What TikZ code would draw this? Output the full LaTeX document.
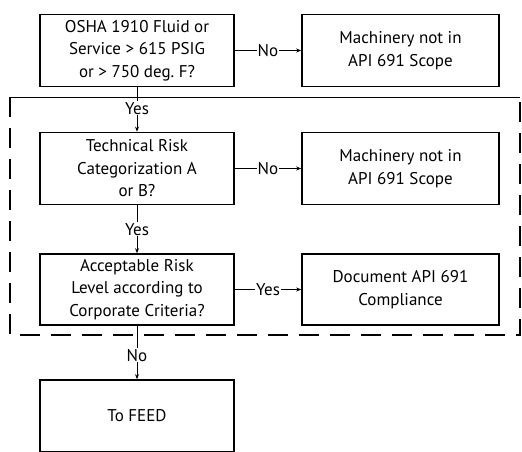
\documentclass[tikz,border=0pt]{standalone}
\usepackage{fontspec}
\setmainfont{PT Sans}
\usetikzlibrary{arrows.meta}
\begin{document}
\begin{tikzpicture}[x=1pt,y=-1pt,
  box/.style={draw,line width=1.6pt,minimum width=194pt,minimum height=72pt,align=center,font=\fontsize{17}{22.5}\selectfont,inner sep=0pt},
  lbl/.style={font=\fontsize{17}{18}\selectfont,fill=white,inner sep=1pt},
  arr/.style={line width=0.8pt,-{Stealth[length=5pt,width=4pt]}}]
\useasboundingbox (0,0) rectangle (522,452);
% dashed boundary
\draw[line width=1.6pt,dash pattern=on 20pt off 11pt] (10,97) -- (10,335) -- (520,335) -- (520,97);
\draw[line width=1pt] (10,97) -- (520,97);
\node[box] (q1) at (137,50.5) {OSHA 1910 Fluid or\\Service > 615 PSIG\\or > 750 deg.\ F?};
\node[box,minimum width=197pt] (n1) at (400.5,50.5) {Machinery not in\\API 691 Scope};
\node[box] (q2) at (137,168.5) {Technical Risk\\Categorization A\\or B?};
\node[box,minimum width=197pt] (n2) at (400.5,168.5) {Machinery not in\\API 691 Scope};
\node[box,minimum height=71pt] (q3) at (137,289.5) {Acceptable Risk\\Level according to\\Corporate Criteria?};
\node[box,minimum width=197pt,minimum height=71pt] (d3) at (400.5,289.5) {Document API 691\\Compliance};
\node[box,minimum height=72pt] (f) at (137,416) {To FEED};
\draw[arr] (q1) -- node[lbl]{No} (n1);
\draw[arr] (q2) -- node[lbl]{No} (n2);
\draw[arr] (q3) -- node[lbl]{Yes} (d3);
\draw[arr] (q1) -- node[lbl,pos=0.47]{Yes} (q2);
\draw[arr] (q2) -- node[lbl]{Yes} (q3);
\draw[arr] (q3) -- node[lbl,pos=0.55]{No} (f);
\end{tikzpicture}
\end{document}
